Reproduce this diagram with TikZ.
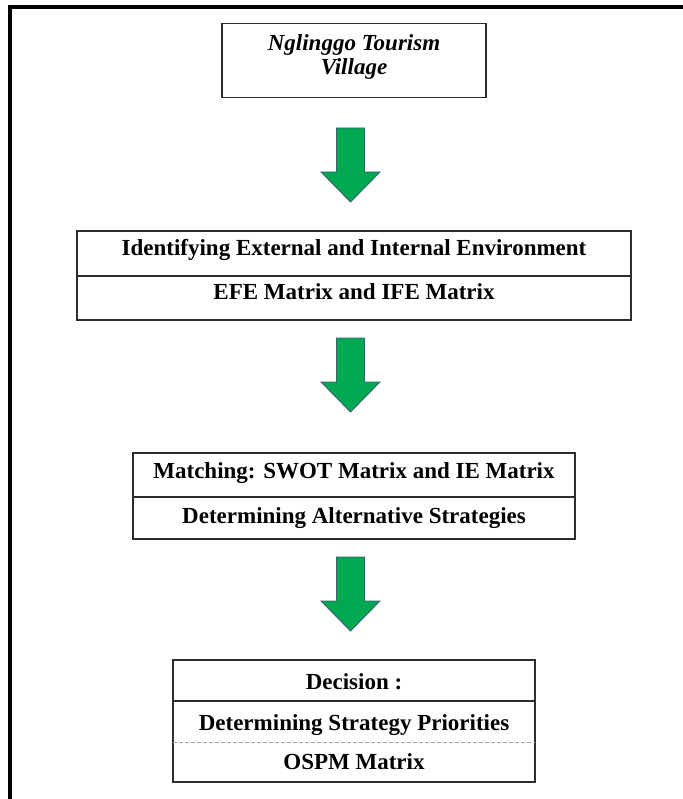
\documentclass[tikz,border=0pt]{standalone}
\usepackage{fontspec}
\setmainfont{Liberation Serif}
\definecolor{arrowgreen}{RGB}{0,168,80}
\definecolor{arrowedge}{RGB}{60,95,125}
\definecolor{boxedge}{RGB}{45,45,45}
\tikzset{
  box/.style={draw=boxedge, line width=1.6pt, inner sep=0pt, fill=white},
  row/.style={inner sep=0pt, text height=16pt, text depth=5pt, font=\bfseries\fontsize{23}{26}\selectfont},
  divider/.style={draw=boxedge, line width=1.6pt},
  dashdiv/.style={draw=gray!70, line width=0.9pt, dash pattern=on 4pt off 2pt},
  greenarrow/.style={fill=arrowgreen, draw=arrowedge, line width=0.9pt, line join=miter},
  pics/downarrow/.style={code={
    \path[greenarrow] (-14,0) -- (14,0) -- (14,44) -- (29.5,44) -- (0,74) -- (-29.5,44) -- (-14,44) -- cycle;
  }}
}
\begin{document}
\begin{tikzpicture}[x=1pt,y=-1pt]
\useasboundingbox (0,0) rectangle (682,799);
% outer frame (top and left edges visible)
\draw[line width=3.5pt, line cap=rect] (10,799) -- (10,7) -- (682,7);

% box 1
\node[box, minimum width=264pt, minimum height=74pt] (b1) at (354,60.5) {};
\node[inner sep=0pt, align=center, font=\bfseries\itshape\fontsize{23}{24}\selectfont] (t1) at (354,57) {Nglinggo Tourism\\Village};

% box 2
\node[box, minimum width=554pt, minimum height=89pt] (b2) at (354,275.5) {};
\node[row, text depth=13pt, minimum width=554pt, minimum height=45pt] (r21) at (354,253.5) {Identifying External and Internal Environment};
\node[row, text depth=14pt, minimum width=554pt, minimum height=44pt] (r22) at (354,298) {EFE Matrix and IFE Matrix};
\draw[divider] (r21.south west) -- (r21.south east);

% box 3
\node[box, minimum width=442pt, minimum height=86pt] (b3) at (354,496) {};
\node[row, text depth=9pt, minimum width=442pt, minimum height=44pt] (r31) at (354,475) {Matching: SWOT Matrix and IE Matrix};
\node[row, minimum width=442pt, minimum height=42pt] (r32) at (354,518) {Determining Alternative Strategies};
\draw[divider] (r31.south west) -- (r31.south east);

% box 4
\node[box, minimum width=362pt, minimum height=122pt] (b4) at (354,721) {};
\node[row, text height=22pt, minimum width=362pt, minimum height=41pt] (r41) at (354,680.5) {Decision :};
\node[row, text height=22pt, minimum width=362pt, minimum height=41pt] (r42) at (354,721.5) {Determining Strategy Priorities};
\node[row, text height=20pt, minimum width=362pt, minimum height=40pt] (r43) at (354,762) {OSPM Matrix};
\draw[divider] (r41.south west) -- (r41.south east);
\draw[dashdiv] (r42.south west) -- (r42.south east);

% arrows
\coordinate (a1) at (350.5,128);
\coordinate (a2) at (350.5,338);
\coordinate (a3) at (350.5,557);
\pic at (a1) {downarrow};
\pic at (a2) {downarrow};
\pic at (a3) {downarrow};
\end{tikzpicture}
\end{document}
